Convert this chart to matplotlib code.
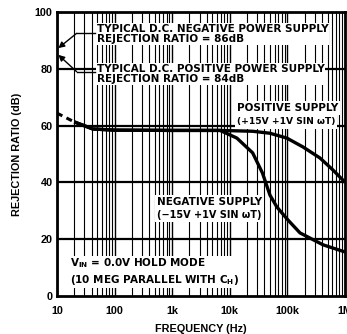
import matplotlib.pyplot as plt

# dashed start of the curve (low frequency end)
dash_f = [10, 20]
dash_db = [64.4, 61.3]

# positive supply rejection
pos_f = [20, 42, 100, 1000, 6800, 25000, 50000, 98000, 186000, 368000, 617000, 923000, 1000000]
pos_db = [61.3, 58.8, 58.4, 58.3, 58.3, 58.0, 57.3, 55.6, 52.5, 48.6, 44.4, 40.8, 40.0]

# negative supply rejection
neg_f = [20, 42, 100, 1000, 6800, 13300, 25000, 37000, 50000, 66000, 102000, 166000, 417000, 1000000]
neg_db = [61.3, 58.8, 58.4, 58.3, 58.3, 55.6, 50.4, 43.3, 35.5, 31.3, 26.8, 22.2, 18.0, 15.5]

xticks = [10, 100, 1000, 10000, 100000, 1000000]
xticklabels = ['10', '100', '1k', '10k', '100k', '1M']
yticks = [0, 20, 40, 60, 80, 100]

plt.rcParams['font.family'] = ['Liberation Sans', 'DejaVu Sans']
plt.rcParams['font.weight'] = 'bold'
plt.rcParams['axes.labelweight'] = 'bold'
plt.rcParams['mathtext.fontset'] = 'dejavusans'

fig = plt.figure(figsize=(3.47, 3.34), dpi=100)
ax = fig.add_axes([0.164, 0.114, 0.830, 0.850])
ax.set_xscale('log')
ax.set_xlim(10, 1e6)
ax.set_ylim(0, 100)

# grid: every minor decade line, heavy horizontal lines
for d in range(1, 6):
    for m in range(2, 10):
        ax.axvline(m * 10 ** d, color='black', lw=0.8, zorder=1)
    ax.axvline(10 ** d, color='black', lw=1.0, zorder=1)
for y in [20, 40, 60, 80]:
    ax.axhline(y, color='black', lw=1.6, zorder=1)

ax.plot(dash_f, dash_db, color='black', lw=2.2, ls=(0, (2, 1.5)), zorder=6)
ax.plot(pos_f, pos_db, color='black', lw=2.4, zorder=6, solid_capstyle='butt')
ax.plot(neg_f, neg_db, color='black', lw=2.4, zorder=6, solid_capstyle='butt')

box = dict(facecolor='white', edgecolor='none', pad=0.6)
wbox = dict(facecolor='white', edgecolor='none', pad=1.6)
fs = 7.5
note = dict(fontfamily='DejaVu Sans', fontweight='bold', ha='left', zorder=5)
ax.text(49, 95.8, 'TYPICAL D.C. NEGATIVE POWER SUPPLY\nREJECTION RATIO = 86dB',
        fontsize=fs, va='top', linespacing=1.02, bbox=box, **note)
ax.text(49, 81.8, 'TYPICAL D.C. POSITIVE POWER SUPPLY\nREJECTION RATIO = 84dB',
        fontsize=fs, va='top', linespacing=1.02, bbox=box, **note)
ax.text(13300, 61.3, '(+15V +1V SIN \u03c9T)', fontsize=6.6, va='center', bbox=wbox, **note)
ax.text(13300, 66.2, 'POSITIVE SUPPLY', fontsize=fs, va='center', bbox=wbox, **note)
ax.text(545, 28.5, '(\u221215V +1V SIN \u03c9T)', fontsize=7.0, va='center', bbox=wbox, **note)
ax.text(545, 33.1, 'NEGATIVE SUPPLY', fontsize=fs, va='center', bbox=wbox, **note)
ax.text(16.8, 13.9, 'V$_{\\mathbf{IN}}$ = 0.0V HOLD MODE\n(10 MEG PARALLEL WITH C$_\\mathbf{H}$)',
        fontsize=fs, va='top', linespacing=1.3, bbox=box, **note)

# leader lines from the d.c. notes to the left axis
arrow = dict(arrowstyle='-|>,head_length=0.35,head_width=0.18', color='black', lw=1.0,
             shrinkA=0, shrinkB=0)
ax.plot([22, 46], [92.5, 92.5], color='black', lw=1.0, zorder=6)
ax.annotate('', xy=(10.6, 87.3), xytext=(22, 92.5), arrowprops=arrow, zorder=6)
ax.plot([22, 46], [79.0, 79.0], color='black', lw=1.0, zorder=6)
ax.annotate('', xy=(10.6, 84.9), xytext=(22, 79.0), arrowprops=arrow, zorder=6)

ax.set_xticks(xticks)
ax.set_xticklabels(xticklabels)
ax.set_yticks(yticks)
ax.minorticks_off()
ax.tick_params(length=0, labelsize=7.8)
ax.tick_params(axis='x', pad=7)
ax.tick_params(axis='y', pad=3)
for s in ax.spines.values():
    s.set_linewidth(2.0)
    s.set_zorder(7)

ax.set_xlabel('FREQUENCY (Hz)', fontsize=7.8, labelpad=6)
ax.set_ylabel('REJECTION RATIO (dB)', fontsize=7.8, labelpad=9)

fig.savefig('out.png', dpi=100)
